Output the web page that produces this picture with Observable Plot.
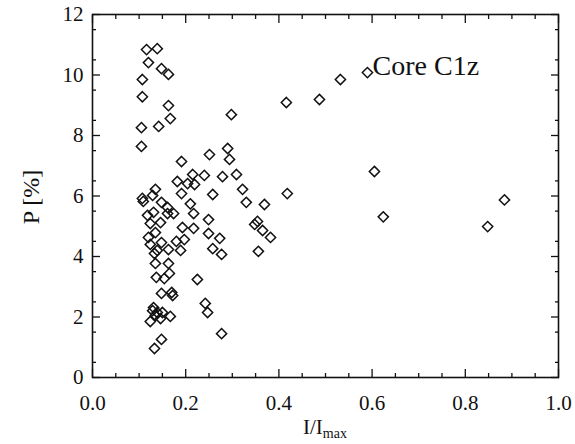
<!DOCTYPE html>
<html><head><meta charset="utf-8">
<script src="https://cdn.jsdelivr.net/npm/d3@7"></script>
<script src="https://cdn.jsdelivr.net/npm/@observablehq/plot@0.6"></script>
<style>
body{margin:0;background:#fff}
svg, svg text { font-family: "Liberation Serif", "Times New Roman", Times, serif !important; }
</style>
</head><body><div id="chart"></div>
<script>
// I/Imax values
const intensity = [
  0.116,0.139,0.120,0.148,0.163,0.107,0.107,0.163,0.167,0.105,0.142,0.105,0.298,
  0.416,0.487,0.532,0.590,0.605,0.418,0.884,0.624,0.848,
  0.290,0.294,0.251,0.191,0.215,0.240,0.279,0.309,0.182,0.204,0.219,0.322,0.191,0.258,0.135,
  0.330,0.369,0.210,0.217,0.249,0.193,0.217,0.249,0.273,0.258,0.277,0.189,0.197,0.180,0.163,
  0.354,0.348,0.365,0.382,0.356,
  0.107,0.109,0.129,0.148,0.161,0.174,0.131,0.118,0.161,0.146,0.124,0.135,0.120,0.148,0.124,0.139,0.133,
  0.135,0.163,0.165,0.137,0.154,0.225,0.148,0.170,0.172,0.242,0.247,
  0.131,0.129,0.139,0.150,0.135,0.146,0.167,0.124,0.277,0.148,0.133
];
// P [%] values
const polarization = [
  10.84,10.87,10.41,10.21,10.02,9.85,9.28,8.99,8.56,8.26,8.30,7.64,8.69,
  9.09,9.19,9.85,10.08,6.81,6.08,5.87,5.31,4.99,
  7.57,7.21,7.37,7.14,6.71,6.68,6.64,6.71,6.48,6.41,6.38,6.22,6.08,6.05,6.22,
  5.79,5.72,5.74,5.42,5.22,4.96,4.93,4.76,4.60,4.26,4.07,4.20,4.56,4.50,4.23,
  5.16,5.06,4.86,4.63,4.17,
  5.92,5.82,6.02,5.79,5.62,5.42,5.46,5.36,5.42,5.12,5.09,4.79,4.63,4.46,4.40,4.20,4.10,
  3.77,3.77,3.44,3.31,3.27,3.24,2.78,2.81,2.71,2.45,2.15,
  2.31,2.21,2.15,2.15,2.05,1.95,2.02,1.85,1.45,1.26,0.96
];
const xMajor = [0, 0.2, 0.4, 0.6, 0.8, 1.0];
const xMinor = [0.05,0.1,0.15,0.25,0.3,0.35,0.45,0.5,0.55,0.65,0.7,0.75,0.85,0.9,0.95];
const yMajor = [0, 2, 4, 6, 8, 10, 12];
const yMinor = [0.5,1.5,2.5,3.5,4.5,5.5,6.5,7.5,8.5,9.5,10.5,11.5];
const annotation = ["Core C1z"];
const annotationPos = {x: 0.601, y: 10.0};

const data = intensity.map((x, i) => ({x, y: polarization[i]}));
const FONT = "Liberation Serif, Times New Roman, serif";
const INK = "#111";

const ticks = (axis, vals, anchor, size) => {
  const o = {anchor, tickSize: size, text: null, label: null, stroke: INK, strokeWidth: 1.3};
  if (anchor === "bottom") o.dy = -size;
  if (anchor === "top") o.dy = size;
  if (anchor === "left") o.dx = size;
  if (anchor === "right") o.dx = -size;
  return axis(vals, o);
};

const plot = Plot.plot({
  width: 575, height: 444,
  marginLeft: 92, marginRight: 17, marginTop: 14, marginBottom: 67,
  style: {fontFamily: FONT, fontSize: "20px", color: INK, background: "#fff"},
  x: {domain: [0, 1]},
  y: {domain: [0, 12]},
  marks: [
    Plot.dot(data, {x: "x", y: "y", symbol: "diamond2", r: 4.6, stroke: INK, strokeWidth: 1.5, fill: "none"}),
    ticks(Plot.axisX, xMajor, "bottom", 8),
    ticks(Plot.axisX, xMinor, "bottom", 4),
    ticks(Plot.axisX, xMajor, "top", 8),
    ticks(Plot.axisX, xMinor, "top", 4),
    ticks(Plot.axisY, yMajor, "left", 8),
    ticks(Plot.axisY, yMinor, "left", 4),
    ticks(Plot.axisY, yMajor, "right", 8),
    ticks(Plot.axisY, yMinor, "right", 4),
    Plot.axisX(xMajor, {anchor: "bottom", tickSize: 0, tickPadding: 18, tickFormat: d => d.toFixed(1), label: null, fontSize: 21, fill: INK}),
    Plot.axisY(yMajor, {anchor: "left", tickSize: 0, tickPadding: 9, label: null, fontSize: 21, fill: INK}),
    Plot.frame({stroke: INK, strokeWidth: 1.6}),
    Plot.text(annotation, {x: () => annotationPos.x, y: () => annotationPos.y, text: d => d, textAnchor: "start", lineAnchor: "bottom", fontSize: 28, fill: INK})
  ]
});

const svg = d3.select(plot);
const xt = svg.append("text")
  .attr("x", 325).attr("y", 434)
  .attr("text-anchor", "middle")
  .attr("font-size", 21).attr("fill", INK);
xt.append("tspan").text("I/I");
xt.append("tspan").attr("font-size", 14).attr("dy", 4).text("max");

svg.append("text")
  .attr("transform", "translate(39,197) rotate(-90)")
  .attr("text-anchor", "middle")
  .attr("font-size", 24).attr("fill", INK)
  .text("P [%]");

document.getElementById("chart").appendChild(plot);
</script>
</body></html>
